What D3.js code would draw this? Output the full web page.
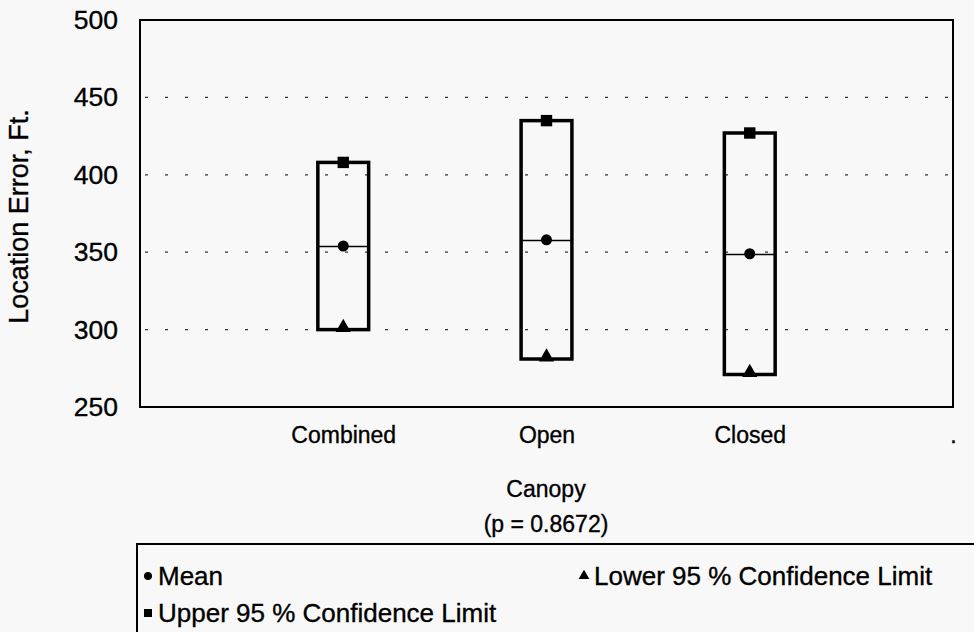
<!DOCTYPE html>
<html>
<head>
<meta charset="utf-8">
<script src="https://cdn.jsdelivr.net/npm/d3@7"></script>
<style>
  body { margin: 0; background: #f8f8f8; }
  svg { font-family: "Liberation Sans", Arial, sans-serif; }
  svg text { stroke: #000; stroke-width: 0.35px; fill: #000; }
</style>
</head>
<body>
<svg id="chart" width="974" height="632"></svg>
<script>
// data
var categories = ["Combined", "Open", "Closed"];
var axisLabels = ["", "Combined", "Open", "Closed", "."];
var means = [354, 358, 349];
var lower95 = [300, 281, 271];
var upper95 = [408, 435, 427];
var yTicks = [250, 300, 350, 400, 450, 500];
var gridTicks = [300, 350, 400, 450];

var svg = d3.select("#chart"),
    margin = {top: 20, right: 21, bottom: 225, left: 140},
    width = +svg.attr("width") - margin.left - margin.right,
    height = +svg.attr("height") - margin.top - margin.bottom;

var x = d3.scalePoint().domain(axisLabels).range([0, width]),
    y = d3.scaleLinear().domain([250, 500]).range([height, 0]);

var g = svg.append("g")
    .attr("transform", "translate(" + margin.left + "," + margin.top + ")");

// dotted grid
g.append("g")
    .selectAll("line")
    .data(gridTicks)
    .enter().append("line")
      .attr("x1", 0)
      .attr("x2", width)
      .attr("y1", function(d) { return y(d); })
      .attr("y2", function(d) { return y(d); })
      .attr("stroke", "#333")
      .attr("stroke-width", 1.2)
      .attr("stroke-dasharray", "3,17")
      .attr("stroke-dashoffset", -5);

// y axis labels
var yAxis = g.append("g")
    .call(d3.axisLeft(y).tickValues(yTicks).tickSize(0).tickPadding(22));
yAxis.select(".domain").remove();
yAxis.selectAll("text")
    .style("font-size", "26.5px")
    .attr("font-family", "Liberation Sans, Arial, sans-serif");

// x axis labels
var xAxis = g.append("g")
    .attr("transform", "translate(0," + height + ")")
    .call(d3.axisBottom(x).tickSize(0).tickPadding(20));
xAxis.select(".domain").remove();
xAxis.selectAll("text")
    .style("font-size", "23px")
    .attr("font-family", "Liberation Sans, Arial, sans-serif");

// frame
g.append("rect")
    .attr("width", width)
    .attr("height", height)
    .attr("fill", "none")
    .attr("stroke", "#000")
    .attr("stroke-width", 2);

var bw = x.step() * 0.25;

var boxes = g.selectAll(".box")
    .data(categories)
    .enter().append("g")
      .attr("class", "box");

boxes.append("rect")
    .attr("x", function(d) { return x(d) - bw / 2; })
    .attr("y", function(d, i) { return y(upper95[i]); })
    .attr("width", bw)
    .attr("height", function(d, i) { return y(lower95[i]) - y(upper95[i]); })
    .attr("fill", "none")
    .attr("stroke", "#000")
    .attr("stroke-width", 3.5);

boxes.append("line")
    .attr("x1", function(d) { return x(d) - bw / 2; })
    .attr("x2", function(d) { return x(d) + bw / 2; })
    .attr("y1", function(d, i) { return Math.round(y(means[i])) + 0.5; })
    .attr("y2", function(d, i) { return Math.round(y(means[i])) + 0.5; })
    .attr("stroke", "#000")
    .attr("stroke-width", 1.3);

boxes.append("circle")
    .attr("cx", function(d) { return x(d); })
    .attr("cy", function(d, i) { return y(means[i]); })
    .attr("r", 5.5)
    .attr("fill", "#000");

boxes.append("path")
    .attr("transform", function(d, i) { return "translate(" + x(d) + "," + y(upper95[i]) + ")"; })
    .attr("d", d3.symbol(d3.symbolSquare, 130))
    .attr("fill", "#000");

boxes.append("path")
    .attr("transform", function(d, i) { return "translate(" + x(d) + "," + (y(lower95[i]) - 2) + ")"; })
    .attr("d", d3.symbol(d3.symbolTriangle, 100))
    .attr("fill", "#000");

// axis titles
svg.append("text")
    .attr("transform", "translate(28," + (margin.top + height / 2 + 3) + ") rotate(-90)")
    .attr("text-anchor", "middle")
    .style("font-size", "27px")
    .text("Location Error, Ft.");

svg.append("text")
    .attr("x", 546)
    .attr("y", 497)
    .attr("text-anchor", "middle")
    .style("font-size", "23px")
    .text("Canopy");

svg.append("text")
    .attr("x", 546)
    .attr("y", 532)
    .attr("text-anchor", "middle")
    .style("font-size", "23px")
    .text("(p = 0.8672)");

// legend
var legend = svg.append("g");
legend.append("rect")
    .attr("x", 137)
    .attr("y", 544)
    .attr("width", 860)
    .attr("height", 120)
    .attr("fill", "none")
    .attr("stroke", "#000")
    .attr("stroke-width", 2);

var legendItems = [
  {label: "Mean", sym: d3.symbolCircle, size: 50, x: 148, y: 576},
  {label: "Lower 95 % Confidence Limit", sym: d3.symbolTriangle, size: 50, x: 584, y: 576},
  {label: "Upper 95 % Confidence Limit", sym: d3.symbolSquare, size: 64, x: 148, y: 613}
];

var li = legend.selectAll(".item")
    .data(legendItems)
    .enter().append("g")
      .attr("transform", function(d) { return "translate(" + d.x + "," + d.y + ")"; });

li.append("path")
    .attr("d", function(d) { return d3.symbol(d.sym, d.size)(); })
    .attr("fill", "#000");

li.append("text")
    .attr("x", 10)
    .attr("dy", "0.35em")
    .style("font-size", "26px")
    .text(function(d) { return d.label; });
</script>
</body>
</html>
